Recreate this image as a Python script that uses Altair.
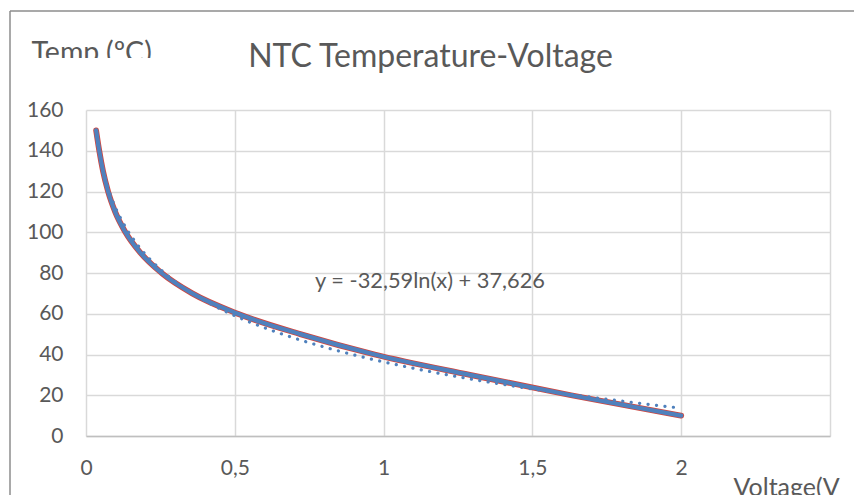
import altair as alt
import pandas as pd

# ---- data ----
voltage = [0.034, 0.0446, 0.0572, 0.0742, 0.098, 0.1325, 0.1825, 0.254, 0.357, 0.51, 0.72, 0.97, 1.29, 1.63, 2.0]
temperature = [150, 140, 130, 120, 110, 100, 90, 80, 70, 60, 50, 40, 30, 20, 10]
x_ticks = [0, 0.5, 1, 1.5, 2, 2.5]
y_ticks = [0, 20, 40, 60, 80, 100, 120, 140, 160]
chart_title = "NTC Temperature-Voltage"
x_title = "Voltage(V"
y_title = "Temp.(ºC)"
equation = "y = -32,59ln(x) + 37,626"

df = pd.DataFrame({"V": voltage, "T": temperature})

FONT = "Lato"
GREY = "#595959"
GRID = "#d9d9d9"
BLUE = "#4F81BD"
RED = "#D0463F"

x_enc = alt.X(
    "V:Q",
    scale=alt.Scale(domain=[0, 2.5], nice=False, zero=False),
    axis=alt.Axis(
        values=x_ticks,
        labelExpr="datum.value == 2.5 ? '' : replace(toString(datum.value), '.', ',')",
        title=x_title,
        titleX=647, titleY=59, titleAngle=0,
        titleAlign="left", titleBaseline="alphabetic",
        titleFontSize=25, titleFontWeight="normal", titleColor=GREY, titleFont=FONT,
        labelFontSize=21, labelColor=GREY, labelFont=FONT, labelFlush=False,
        labelBaseline="middle", labelPadding=32,
        ticks=False, domain=True, domainColor="#bfbfbf", domainWidth=1.5,
        grid=True, gridColor=GRID, gridWidth=1.5,
    ),
)
y_enc = alt.Y(
    "T:Q",
    scale=alt.Scale(domain=[0, 160], nice=False),
    axis=alt.Axis(
        values=y_ticks,
        title=y_title,
        titleX=-55, titleY=-48.5, titleAngle=0,
        titleAlign="left", titleBaseline="alphabetic",
        titleFontSize=28.5, titleFontWeight="normal", titleColor=GREY, titleFont=FONT,
        labelFontSize=21, labelColor=GREY, labelFont=FONT, labelPadding=23, labelFlush=False,
        ticks=False, domain=False,
        grid=True, gridColor=GRID, gridWidth=1.5,
    ),
)

base = alt.Chart(df)

red_line = base.mark_line(color=RED, strokeWidth=5.8, strokeCap="round", interpolate="monotone").encode(x=x_enc, y=y_enc)
blue_line = base.mark_line(color=BLUE, strokeWidth=4.2, strokeCap="round", interpolate="monotone").encode(x="V:Q", y="T:Q")
trend = base.transform_regression("V", "T", method="log").mark_line(
    color=BLUE, strokeWidth=3.2, strokeDash=[0.1, 8.4], strokeCap="round"
).encode(x="V:Q", y="T:Q")

title_mark = alt.Chart(pd.DataFrame({"label": [chart_title]})).mark_text(
    font=FONT, fontSize=32, color=GREY, align="center", baseline="alphabetic"
).encode(x=alt.value(344.5), y=alt.value(-43), text="label:N")

eq_mark = alt.Chart(pd.DataFrame({"label": [equation]})).mark_text(
    font=FONT, fontSize=21.8, color=GREY, align="center", baseline="middle"
).encode(x=alt.value(344), y=alt.value(171), text="label:N")

# the reference's y title is cut along its lower edge
title_cut = alt.Chart(pd.DataFrame({"k": [0]})).mark_rect(color="white").encode(
    x=alt.value(-60), x2=alt.value(80), y=alt.value(-52), y2=alt.value(-36)
)

border_top = alt.Chart(pd.DataFrame({"k": [0]})).mark_rule(color="#8c8c8c", strokeWidth=1.5).encode(
    x=alt.value(-76), x2=alt.value(790), y=alt.value(-99)
)
border_left = alt.Chart(pd.DataFrame({"k": [0]})).mark_rule(color="#8c8c8c", strokeWidth=1.5).encode(
    x=alt.value(-76), y=alt.value(-99), y2=alt.value(420)
)

chart = alt.layer(
    red_line, blue_line, trend, title_mark, eq_mark, title_cut, border_top, border_left
).properties(
    width=744, height=326,
    autosize=alt.AutoSizeParams(type="none"),
    padding={"left": 78, "top": 102, "right": 24, "bottom": 59},
).configure_view(stroke=None)

chart.save("out.html", embed_options={"renderer": "svg", "actions": False})
